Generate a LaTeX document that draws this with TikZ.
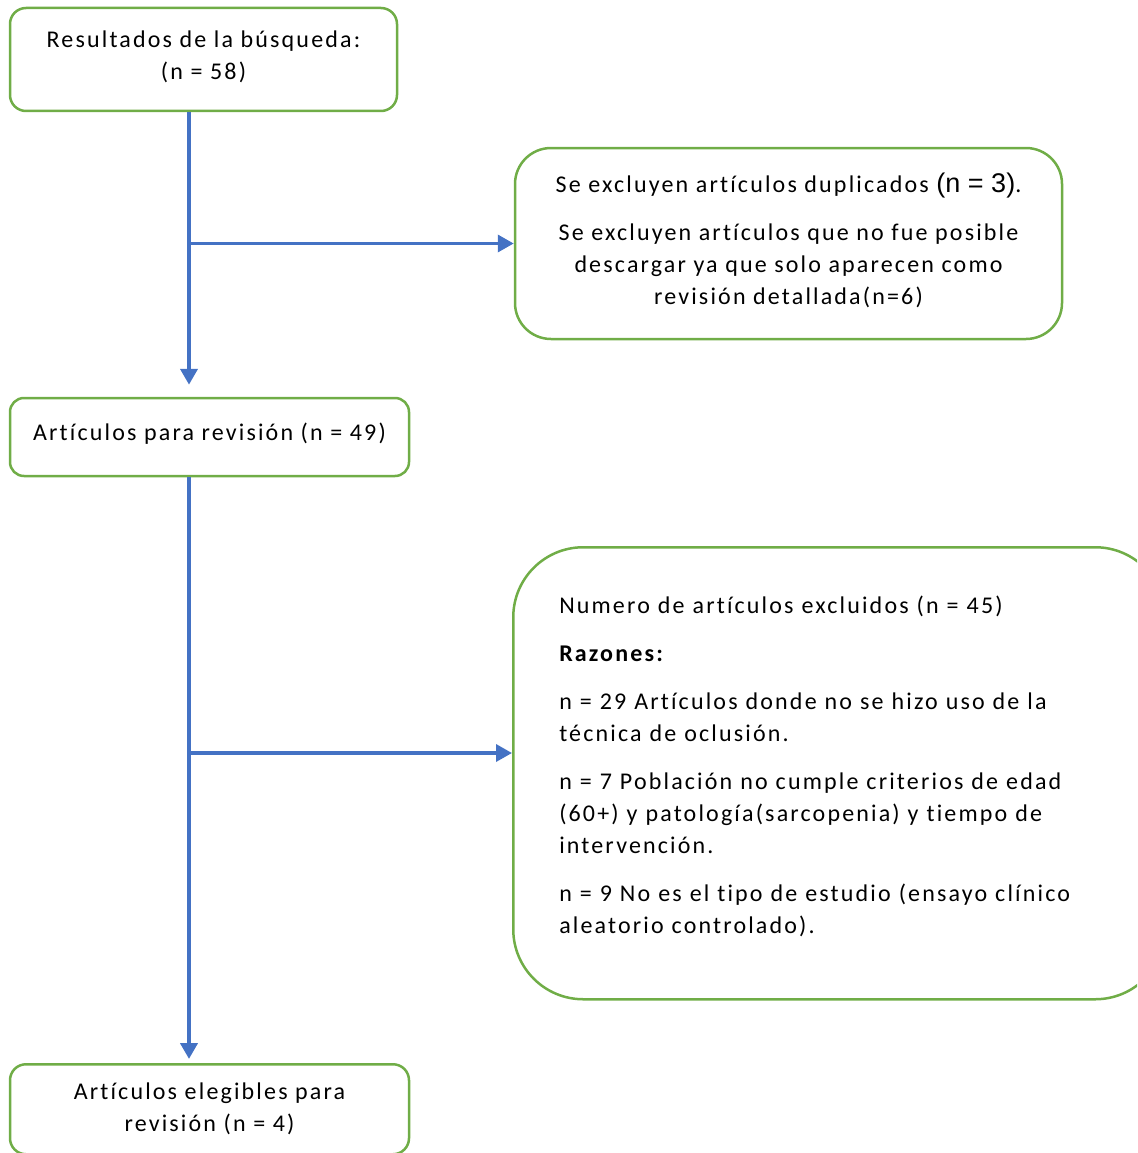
\documentclass[tikz,border=0pt]{standalone}
\usepackage{fontspec}
\setmainfont{Carlito}[LetterSpace=9,Ligatures=NoCommon]
\newfontfamily\arialfont{Liberation Sans}
\usetikzlibrary{arrows.meta,positioning}
\definecolor{verde}{RGB}{112,173,71}
\definecolor{azul}{RGB}{68,114,196}

\begin{document}
\begin{tikzpicture}[x=1pt,y=-1pt,
    font=\fontsize{24}{32}\selectfont,
    caja/.style={draw=verde,line width=2.5pt,align=center,inner sep=0pt},
    flecha/.style={draw=azul,line width=3.5pt,-{Triangle[length=16pt,width=17pt]}}]
        \clip (0,0) rectangle (1137,1153);
        \node[caja,rounded corners=16pt,minimum width=387pt,minimum height=103pt] at (203.5,59.5) (res)
            {Resultados de la búsqueda:\\(n = 58)\\[-24pt]\mbox{}};
        \node[caja,rounded corners=36pt,minimum width=547pt,minimum height=191pt] at (788.5,243.5) (dup)
            {Se excluyen artículos duplicados {\arialfont\fontsize{27}{32}\selectfont(n = 3)}.\\[16pt]
             Se excluyen artículos que no fue posible\\descargar ya que solo aparecen como\\revisión detallada(n=6)\\[-22pt]\mbox{}};
        \node[caja,rounded corners=14pt,minimum width=399pt,minimum height=78pt] at (209.5,437) (rev)
            {Artículos para revisión (n = 49)\\[-22pt]\mbox{}};
        \node[caja,rounded corners=70pt,align=left,inner xsep=46pt,text width=560pt,minimum height=452pt,
              anchor=north west] at (512,546) (excl)
            {Numero de artículos excluidos (n = 45)\\[16pt]
             \textbf{Razones:}\\[16pt]
             n = 29 Artículos donde no se hizo uso de la\\técnica de oclusión.\\[16pt]
             n = 7 Población no cumple criterios de edad\\(60+) y patología(sarcopenia) y tiempo de\\intervención.\\[16pt]
             n = 9 No es el tipo de estudio (ensayo clínico\\aleatorio controlado).\\[-14pt]\mbox{}};
        \node[caja,rounded corners=16pt,minimum width=399pt,inner ysep=19pt,anchor=north] at (209.5,1063) (eleg)
            {Artículos elegibles para\\revisión (n = 4)};

        % eje de las flechas
        \coordinate (eje) at (189,0);
        \coordinate (rama) at (0,753);
        \draw[flecha,line width=4.5pt,shorten >=12pt] (res.south -| eje) -- (rev.north -| eje);
        \draw[flecha,line width=4.5pt,shorten >=4pt] (rev.south -| eje) -- (eleg.north -| eje);
        \draw[flecha] (eje |- dup.west) -- (dup.west);
        \draw[flecha] (eje |- rama) -- (excl.west |- rama);
    \end{tikzpicture}
\end{document}
